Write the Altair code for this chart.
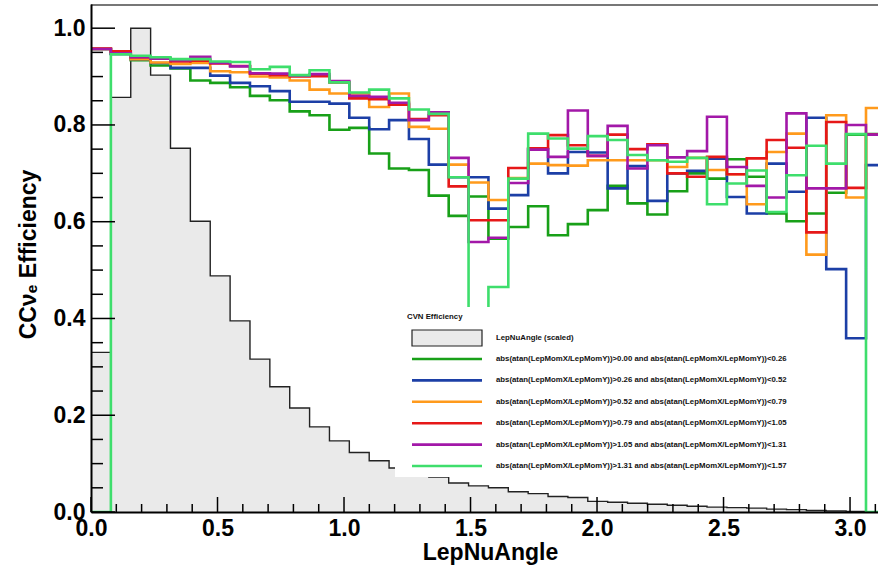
import altair as alt
import numpy as np
import pandas as pd

# ---------------- data ----------------
NBINS = 40
bin_edges = [i * np.pi / NBINS for i in range(NBINS + 1)]

hist_scaled = [0.330, 0.857, 1.000, 0.903, 0.752, 0.601, 0.488, 0.395, 0.316, 0.259,
               0.215, 0.176, 0.147, 0.123, 0.106, 0.091, 0.080, 0.072, 0.060, 0.054,
               0.050, 0.042, 0.038, 0.032, 0.030, 0.022, 0.020, 0.018, 0.016, 0.014,
               0.012, 0.010, 0.009, 0.008, 0.006, 0.005, 0.003, 0.002, 0.001, 0.000]

eff_000_026 = [0.957, 0.947, 0.934, 0.923, 0.917, 0.892, 0.887, 0.878, 0.860, 0.851,
               0.828, 0.820, 0.790, 0.794, 0.741, 0.710, 0.707, 0.654, 0.612, 0.652,
               0.565, 0.589, 0.632, 0.572, 0.595, 0.624, 0.674, 0.638, 0.615, 0.663,
               0.700, 0.689, 0.729, 0.693, 0.617, 0.601, 0.617, 0.660, 0.780, 0.781]
eff_026_052 = [0.957, 0.947, 0.936, 0.928, 0.918, 0.918, 0.902, 0.887, 0.880, 0.870,
               0.848, 0.848, 0.844, 0.815, 0.791, 0.810, 0.771, 0.718, 0.692, 0.692,
               0.627, 0.655, 0.750, 0.700, 0.744, 0.743, 0.669, 0.715, 0.643, 0.700,
               0.705, 0.730, 0.651, 0.617, 0.720, 0.662, 0.815, 0.502, 0.359, 0.717]
eff_052_079 = [0.957, 0.952, 0.936, 0.929, 0.926, 0.928, 0.911, 0.909, 0.900, 0.898,
               0.892, 0.873, 0.865, 0.865, 0.837, 0.865, 0.796, 0.792, 0.718, 0.681,
               0.645, 0.690, 0.720, 0.717, 0.716, 0.727, 0.727, 0.727, 0.727, 0.713,
               0.732, 0.707, 0.698, 0.636, 0.744, 0.782, 0.532, 0.820, 0.650, 0.835]
eff_079_105 = [0.958, 0.952, 0.940, 0.937, 0.931, 0.933, 0.927, 0.922, 0.906, 0.903,
               0.900, 0.901, 0.888, 0.855, 0.853, 0.842, 0.812, 0.820, 0.673, 0.603,
               0.603, 0.711, 0.752, 0.779, 0.758, 0.736, 0.780, 0.750, 0.760, 0.700,
               0.693, 0.734, 0.698, 0.731, 0.769, 0.753, 0.578, 0.806, 0.670, 0.780]
eff_105_131 = [0.957, 0.948, 0.940, 0.937, 0.934, 0.941, 0.928, 0.921, 0.907, 0.906,
               0.902, 0.905, 0.891, 0.860, 0.858, 0.846, 0.810, 0.826, 0.732, 0.558,
               0.567, 0.680, 0.749, 0.734, 0.830, 0.736, 0.798, 0.710, 0.758, 0.733,
               0.746, 0.817, 0.713, 0.674, 0.650, 0.824, 0.669, 0.669, 0.800, 0.780]
eff_131_157 = [0.000, 0.946, 0.943, 0.940, 0.936, 0.936, 0.931, 0.930, 0.915, 0.920,
               0.903, 0.913, 0.888, 0.867, 0.873, 0.855, 0.832, 0.823, 0.692, 0.400,
               0.465, 0.689, 0.782, 0.772, 0.751, 0.777, 0.769, 0.738, 0.727, 0.724,
               0.732, 0.636, 0.679, 0.706, 0.620, 0.696, 0.757, 0.720, 0.781, 0.000]

series_values = [eff_000_026, eff_026_052, eff_052_079, eff_079_105, eff_105_131, eff_131_157]
series_labels = [
    "abs(atan(LepMomX/LepMomY))>0.00 and abs(atan(LepMomX/LepMomY))<0.26",
    "abs(atan(LepMomX/LepMomY))>0.26 and abs(atan(LepMomX/LepMomY))<0.52",
    "abs(atan(LepMomX/LepMomY))>0.52 and abs(atan(LepMomX/LepMomY))<0.79",
    "abs(atan(LepMomX/LepMomY))>0.79 and abs(atan(LepMomX/LepMomY))<1.05",
    "abs(atan(LepMomX/LepMomY))>1.05 and abs(atan(LepMomX/LepMomY))<1.31",
    "abs(atan(LepMomX/LepMomY))>1.31 and abs(atan(LepMomX/LepMomY))<1.57",
]
series_colors = ["#18a018", "#1c3fa6", "#ff9a1c", "#e61818", "#a218a8", "#3ede6c"]

hist_label = "LepNuAngle (scaled)"
legend_title = "CVN Efficiency"

x_major = [0.0, 0.5, 1.0, 1.5, 2.0, 2.5, 3.0]
x_minor = [round(0.1 * i, 2) for i in range(1, 32) if i % 5 != 0]
y_major = [0.0, 0.2, 0.4, 0.6, 0.8, 1.0]
y_minor = [round(0.05 * i, 2) for i in range(1, 21) if i % 4 != 0]

# ---------------- layout ----------------
W, H = 787, 508
FONT = "Liberation Sans"
XMAX = 3.1105
YMAX = 1.05
HIST_FILL = "#eaeaea"

xs = alt.Scale(domain=[0, XMAX], nice=False, zero=False)
ys = alt.Scale(domain=[0, YMAX], nice=False, zero=False)


def step_frame(vals):
    return pd.DataFrame({"x": bin_edges, "y": list(vals) + [vals[-1]]})


x_axis = alt.Axis(values=x_major, format=".1f", labelFont=FONT, labelFontSize=23,
                  labelFontWeight="bold", labelColor="black", labelPadding=5,
                  labelFlush=False, labelOverlap=False, ticks=False, grid=False,
                  domain=True, domainColor="black", domainWidth=2,
                  title="LepNuAngle", titleFont=FONT, titleFontSize=23,
                  titleFontWeight="bold", titleColor="black", titleX=399, titleY=47,
                  titleAlign="center", titleBaseline="alphabetic", zindex=1)
y_axis = alt.Axis(values=y_major, format=".1f", labelFont=FONT, labelFontSize=23,
                  labelFontWeight="bold", labelColor="black", labelPadding=6,
                  labelOverlap=False, labelFlush=False, ticks=False, grid=False,
                  domain=True, domainColor="black", domainWidth=2,
                  title="CCνₑ Efficiency", titleFont=FONT, titleFontSize=23,
                  titleFontWeight="bold", titleColor="black", titleX=-63, titleY=250,
                  titleAngle=270, titleAlign="center", titleBaseline="middle", zindex=1)

hist_df = step_frame(hist_scaled)
hist_area = alt.Chart(hist_df).mark_area(interpolate="step-after", color=HIST_FILL,
                                         clip=True).encode(
    x=alt.X("x:Q", scale=xs, axis=x_axis),
    y=alt.Y("y:Q", scale=ys, axis=y_axis),
)
hist_line = alt.Chart(hist_df).mark_line(interpolate="step-after", color="#222222",
                                         strokeWidth=1.4, clip=True).encode(
    x=alt.X("x:Q", scale=xs), y=alt.Y("y:Q", scale=ys))

layers = [hist_area, hist_line]
for vals, col in zip(series_values, series_colors):
    layers.append(
        alt.Chart(step_frame(vals)).mark_line(interpolate="step-after", color=col,
                                              strokeWidth=2.6, clip=True).encode(
            x=alt.X("x:Q", scale=xs), y=alt.Y("y:Q", scale=ys))
    )

# ticks (ROOT style, inside the frame)
xmaj = alt.Chart(pd.DataFrame({"t": x_major})).mark_rule(color="black", strokeWidth=1.5).encode(
    x=alt.X("t:Q", scale=xs), y=alt.value(H), y2=alt.value(H - 15))
xmin = alt.Chart(pd.DataFrame({"t": x_minor})).mark_rule(color="black", strokeWidth=1.5).encode(
    x=alt.X("t:Q", scale=xs), y=alt.value(H), y2=alt.value(H - 8))
ymaj = alt.Chart(pd.DataFrame({"t": y_major})).mark_rule(color="black", strokeWidth=1.5).encode(
    y=alt.Y("t:Q", scale=ys), x=alt.value(0), x2=alt.value(24))
ymin = alt.Chart(pd.DataFrame({"t": y_minor})).mark_rule(color="black", strokeWidth=1.5).encode(
    y=alt.Y("t:Q", scale=ys), x=alt.value(0), x2=alt.value(12))
top_frame = alt.Chart(pd.DataFrame({"t": [0]})).mark_rule(color="#777777", strokeWidth=2).encode(
    x=alt.value(0), x2=alt.value(W), y=alt.value(1))

# legend (ROOT TLegend look)
one = pd.DataFrame({"t": [0]})
leg_box = alt.Chart(one).mark_rect(color="white").encode(
    x=alt.value(304), x2=alt.value(750), y=alt.value(303), y2=alt.value(473))
leg_title = alt.Chart(one).mark_text(text=legend_title, font=FONT, fontSize=7.8,
                                     fontWeight="bold", align="left", baseline="middle",
                                     color="#111111").encode(
    x=alt.value(316), y=alt.value(313))
leg_hist_box = alt.Chart(one).mark_rect(color=HIST_FILL, stroke="#222222",
                                        strokeWidth=1.2).encode(
    x=alt.value(321), x2=alt.value(391), y=alt.value(326), y2=alt.value(342))
leg_hist_text = alt.Chart(one).mark_text(text=hist_label, font=FONT, fontSize=7.8,
                                         fontWeight="bold", align="left", baseline="middle",
                                         color="#111111").encode(
    x=alt.value(405), y=alt.value(334))
leg_df = pd.DataFrame({
    "label": series_labels,
    "col": series_colors,
    "ly": [355 + i * 21.4 for i in range(len(series_labels))],
})
leg_lines = alt.Chart(leg_df).mark_rule(strokeWidth=2.6).encode(
    x=alt.value(321), x2=alt.value(391),
    y=alt.Y("ly:Q", scale=None, axis=None),
    color=alt.Color("col:N", scale=None, legend=None))
leg_text = alt.Chart(leg_df).mark_text(font=FONT, fontSize=7.8, fontWeight="bold",
                                       align="left", baseline="middle",
                                       color="#111111").encode(
    x=alt.value(405), y=alt.Y("ly:Q", scale=None, axis=None), text="label:N")

chart = alt.layer(
    *layers, leg_box, leg_title, leg_hist_box, leg_hist_text, leg_lines, leg_text,
    xmaj, xmin, ymaj, ymin, top_frame
).properties(
    width=W, height=H,
    autosize=alt.AutoSizeParams(type="none"),
    padding={"left": 91, "top": 4, "right": 0, "bottom": 55},
).configure_view(stroke=None).configure(background="white")

chart.save("out.html", embed_options={"renderer": "svg", "actions": False})
